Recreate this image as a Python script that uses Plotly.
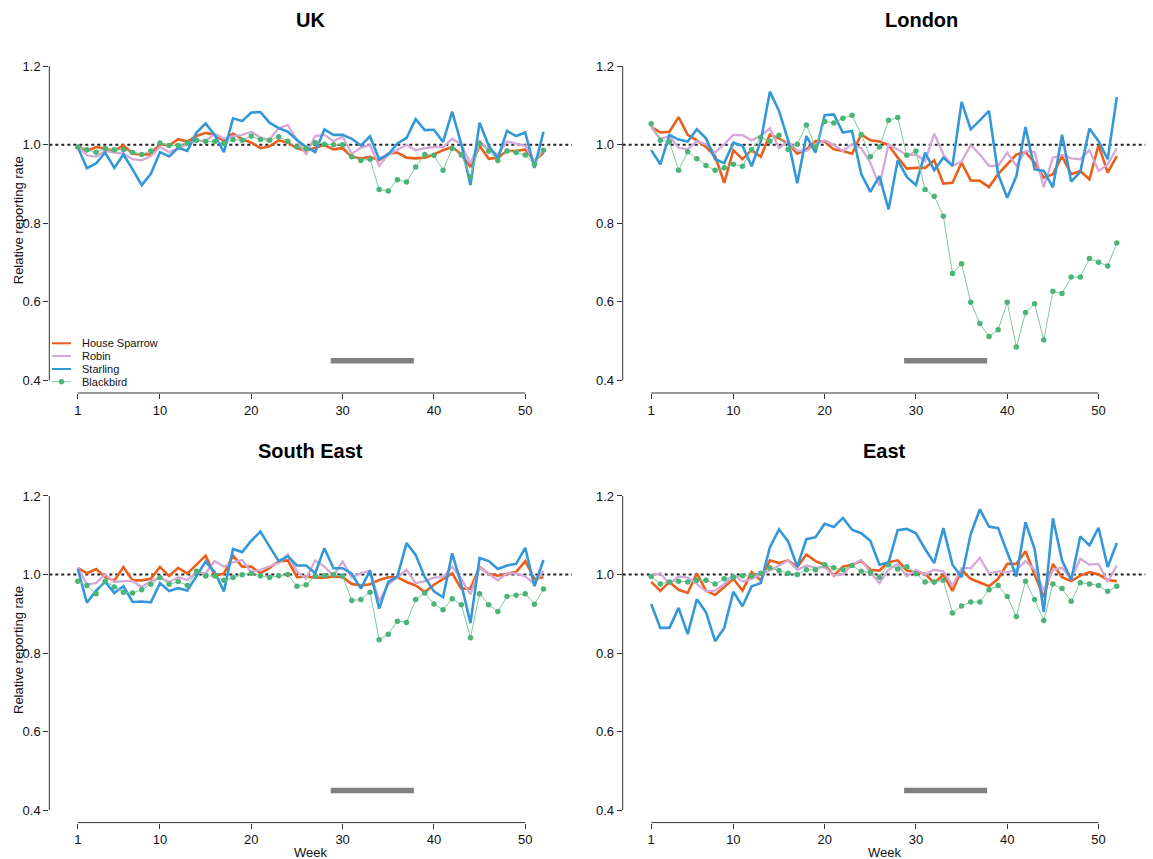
import plotly.graph_objects as go

W, H = 1153, 859
weeks = list(range(1, 53))
species = ["House Sparrow", "Robin", "Starling", "Blackbird"]
x_ticks = [1, 10, 20, 30, 40, 50]
y_ticks = [0.4, 0.6, 0.8, 1.0, 1.2]
y_ticklabels = ["0.4", "0.6", "0.8", "1.0", "1.2"]
ref_level = 1.0
bar_weeks = [28.7, 37.8]
bar_level = 0.45

uk_sparrow = [0.996, 0.984, 0.994, 0.99, 0.984, 0.998, 0.977, 0.975, 0.975, 1.001,
              0.998, 1.014, 1.008, 1.022, 1.03, 1.025, 1.009, 1.028, 1.014, 1.005,
              0.991, 0.996, 1.011, 1.005, 0.991, 0.984, 0.992, 0.999, 0.988, 0.991,
              0.969, 0.965, 0.969, 0.96, 0.977, 0.98, 0.967, 0.965, 0.967, 0.975,
              0.986, 0.994, 0.975, 0.943, 0.997, 0.964, 0.967, 0.984, 0.984, 0.988,
              0.958, 0.98]
uk_robin = [0.996, 0.973, 0.969, 0.984, 0.98, 0.977, 0.963, 0.96, 0.971, 0.994,
            0.981, 0.992, 1.001, 1.011, 1.009, 1.028, 1.015, 1.022, 1.025, 1.033,
            1.018, 1.013, 1.042, 1.05, 1.011, 0.975, 1.022, 1.025, 1.009, 1.02,
            0.977, 0.992, 0.999, 0.946, 0.975, 0.988, 0.999, 0.986, 0.991, 0.994,
            0.994, 1.015, 1.001, 0.952, 1.009, 0.988, 0.975, 1.008, 1.003, 0.997,
            0.957, 0.988]
uk_starling = [0.994, 0.94, 0.952, 0.98, 0.941, 0.975, 0.937, 0.897, 0.926, 0.981,
               0.97, 0.992, 0.984, 1.031, 1.054, 1.024, 0.981, 1.067, 1.06, 1.082,
               1.083, 1.056, 1.042, 1.033, 1.012, 0.994, 0.981, 1.039, 1.025, 1.025,
               1.015, 0.998, 1.021, 0.963, 0.975, 1.003, 1.017, 1.065, 1.037, 1.038,
               1.007, 1.084, 1.001, 0.897, 1.056, 0.997, 0.965, 1.035, 1.022, 1.031,
               0.941, 1.033]
uk_blackbird = [0.994, 0.987, 0.981, 0.99, 0.987, 0.987, 0.98, 0.975, 0.984, 1.004,
                0.998, 0.998, 1.004, 1.011, 1.009, 1.008, 1.003, 1.013, 1.011, 1.022,
                1.013, 1.011, 1.02, 1.009, 0.994, 0.99, 1.005, 1.001, 1.0, 1.0,
                0.969, 0.96, 0.963, 0.886, 0.882, 0.911, 0.905, 0.943, 0.975, 0.973,
                0.935, 0.99, 0.974, 0.918, 1.003, 0.984, 0.96, 0.984, 0.98, 0.974,
                0.95, 0.986]

ldn_sparrow = [1.045, 1.031, 1.033, 1.07, 1.025, 1.011, 0.994, 0.971, 0.903, 0.986,
               0.963, 0.986, 0.969, 1.026, 1.016, 1.003, 0.977, 0.988, 1.009, 1.008,
               0.988, 0.984, 0.977, 1.026, 1.011, 1.008, 0.999, 0.967, 0.939, 0.941,
               0.941, 0.96, 0.901, 0.903, 0.954, 0.909, 0.908, 0.892, 0.925, 0.95,
               0.975, 0.981, 0.954, 0.916, 0.925, 0.971, 0.925, 0.933, 0.912, 0.999,
               0.929, 0.971]
ldn_robin = [1.045, 1.014, 1.022, 0.992, 0.988, 1.009, 1.001, 0.98, 1.001, 1.025,
             1.024, 1.011, 1.022, 1.042, 0.991, 1.009, 0.984, 0.984, 1.001, 1.011,
             0.999, 0.984, 1.001, 0.991, 0.954, 0.895, 1.001, 0.988, 0.974, 0.975,
             0.958, 1.028, 0.975, 0.946, 0.957, 0.999, 0.975, 0.946, 0.946, 0.98,
             0.946, 0.984, 0.981, 0.892, 0.967, 0.974, 0.965, 0.963, 0.986, 0.933,
             0.95, 0.991]
ldn_starling = [0.986, 0.95, 1.025, 1.013, 1.008, 1.039, 1.016, 0.963, 0.953, 1.005,
                0.997, 0.945, 1.009, 1.135, 1.086, 1.011, 0.902, 1.022, 0.98, 1.075,
                1.077, 1.031, 1.035, 0.926, 0.88, 0.92, 0.835, 0.96, 0.918, 0.897,
                0.98, 0.935, 0.967, 0.946, 1.109, 1.039, 1.062, 1.086, 0.925, 0.865,
                0.92, 1.045, 0.937, 0.933, 0.891, 1.025, 0.906, 0.931, 1.041, 1.009,
                0.963, 1.121]
ldn_blackbird = [1.053, 1.011, 1.007, 0.935, 0.982, 0.964, 0.947, 0.935, 0.941, 0.95,
                 0.945, 0.987, 1.018, 1.009, 1.024, 0.988, 1.001, 1.05, 0.994, 1.059,
                 1.055, 1.067, 1.075, 1.026, 0.969, 0.994, 1.062, 1.069, 0.973, 0.984,
                 0.886, 0.869, 0.818, 0.672, 0.697, 0.599, 0.545, 0.512, 0.529, 0.599,
                 0.485, 0.573, 0.595, 0.503, 0.627, 0.621, 0.663, 0.663, 0.71, 0.701,
                 0.691, 0.75]

se_sparrow = [1.017, 1.003, 1.014, 0.993, 0.985, 1.019, 0.985, 0.985, 0.989, 1.019,
              0.996, 1.017, 1.002, 1.025, 1.048, 0.997, 1.002, 1.048, 1.02, 1.02,
              1.003, 1.017, 1.033, 1.036, 0.993, 0.995, 0.992, 0.992, 0.995, 0.993,
              0.976, 0.972, 0.975, 0.986, 0.993, 0.993, 0.981, 0.972, 0.955, 0.974,
              0.989, 1.003, 0.964, 0.964, 1.019, 1.002, 0.997, 1.002, 1.006, 1.034,
              0.989, 0.993]
se_robin = [1.017, 0.975, 0.978, 1.0, 0.981, 0.983, 0.983, 0.968, 0.983, 0.993,
            0.981, 0.993, 0.986, 1.006, 1.003, 1.034, 1.02, 1.031, 1.037, 1.006,
            1.012, 1.02, 1.029, 1.051, 1.008, 0.989, 1.036, 1.02, 0.997, 1.033,
            0.993, 1.003, 1.01, 0.932, 0.975, 0.993, 1.012, 0.978, 0.983, 0.992,
            0.993, 1.02, 0.989, 0.949, 1.017, 1.002, 0.985, 1.003, 1.003, 0.995,
            0.976, 1.01]
se_starling = [1.014, 0.928, 0.959, 0.981, 0.953, 0.97, 0.93, 0.931, 0.929, 0.978,
               0.958, 0.965, 0.959, 0.997, 1.033, 1.006, 0.957, 1.065, 1.057, 1.086,
               1.109, 1.071, 1.034, 1.046, 1.023, 1.023, 1.003, 1.067, 1.016, 1.016,
               1.002, 0.964, 1.01, 0.913, 0.981, 0.995, 1.08, 1.05, 0.993, 0.957,
               0.942, 1.054, 0.975, 0.876, 1.042, 1.034, 1.014, 1.023, 1.027, 1.068,
               0.97, 1.037]
se_blackbird = [0.983, 0.972, 0.951, 0.983, 0.968, 0.955, 0.953, 0.961, 0.975, 0.992,
                0.975, 0.982, 0.972, 1.008, 0.996, 0.996, 0.985, 0.992, 0.999, 1.003,
                0.997, 0.992, 0.997, 1.0, 0.97, 0.974, 0.996, 0.997, 0.999, 0.996,
                0.934, 0.936, 0.955, 0.834, 0.848, 0.881, 0.878, 0.936, 0.953, 0.925,
                0.91, 0.938, 0.923, 0.839, 0.951, 0.923, 0.906, 0.944, 0.947, 0.951,
                0.924, 0.963]

east_sparrow = [0.981, 0.958, 0.981, 0.961, 0.953, 1.003, 0.959, 0.948, 0.968, 0.989,
                0.959, 1.006, 0.985, 1.036, 1.029, 1.036, 1.019, 1.051, 1.034, 1.025,
                0.997, 1.02, 1.025, 1.034, 1.012, 1.01, 1.031, 1.036, 1.01, 1.006,
                1.002, 0.978, 1.0, 0.958, 1.012, 0.989, 0.979, 0.97, 0.989, 1.027,
                1.027, 1.059, 1.0, 0.942, 1.027, 0.993, 0.983, 0.997, 1.006, 1.0,
                0.986, 0.983]
east_robin = [0.997, 1.003, 0.976, 0.995, 0.992, 0.976, 0.957, 0.959, 0.975, 1.0,
              0.982, 0.989, 1.0, 1.01, 1.023, 1.036, 1.012, 1.023, 1.017, 1.019,
              0.997, 1.0, 1.025, 1.037, 1.006, 0.978, 1.012, 1.027, 0.995, 1.012,
              1.0, 1.012, 1.008, 0.972, 1.016, 1.016, 1.042, 1.003, 1.008, 1.006,
              1.012, 1.034, 1.012, 0.959, 1.012, 1.017, 0.989, 1.04, 1.025, 1.027,
              0.981, 1.023]
east_starling = [0.925, 0.864, 0.864, 0.915, 0.848, 0.937, 0.904, 0.83, 0.864, 0.956,
                 0.919, 0.97, 0.978, 1.069, 1.115, 1.084, 1.02, 1.09, 1.095, 1.129,
                 1.121, 1.144, 1.114, 1.105, 1.086, 1.025, 1.031, 1.113, 1.116, 1.105,
                 1.065, 1.029, 1.118, 1.025, 0.993, 1.103, 1.166, 1.122, 1.118, 1.054,
                 0.995, 1.133, 1.065, 0.904, 1.143, 1.036, 0.986, 1.097, 1.074, 1.119,
                 1.019, 1.08]
east_blackbird = [0.995, 0.976, 0.981, 0.983, 0.981, 0.985, 0.985, 0.976, 0.989, 0.993,
                  0.997, 0.996, 1.003, 1.017, 1.01, 1.003, 1.0, 1.012, 1.012, 1.025,
                  1.017, 1.012, 1.023, 1.008, 1.006, 0.993, 1.025, 1.014, 1.02, 1.002,
                  0.981, 0.981, 0.985, 0.902, 0.92, 0.93, 0.93, 0.961, 0.972, 0.944,
                  0.893, 0.983, 0.936, 0.883, 0.976, 0.964, 0.932, 0.979, 0.976, 0.972,
                  0.957, 0.97]

# ---------- styling ----------
FONT = "Liberation Sans, Arial, sans-serif"
C_SPARROW = "#E8601C"
C_ROBIN = "#D6A8D8"
C_STARLING = "#3498D8"
C_BB_LINE = "#7CCB9A"
C_BB_MARK = "#4CB478"
AXIS_C = "#333333"

styles = [
    dict(line=dict(color=C_SPARROW, width=2.6), mode="lines"),
    dict(line=dict(color=C_ROBIN, width=2.3), mode="lines"),
    dict(line=dict(color=C_STARLING, width=2.6), mode="lines"),
    dict(line=dict(color=C_BB_LINE, width=1), mode="lines+markers",
         marker=dict(color=C_BB_MARK, size=5.5)),
]

# panel pixel boxes (plot regions)
LEFT = (49.3, 572)
RIGHT = (622.7, 1145.3)
TOP = (53.5, 393)
BOTTOM = (483.4, 822.6)
X_RANGE = [-2.12, 55.12]
Y_RANGE = [0.368, 1.232]

panels = [
    dict(title="UK", series=[uk_sparrow, uk_robin, uk_starling, uk_blackbird],
         xb=LEFT, yb=TOP, title_x=310, title_y=20, ytitle=True, xtitle=False),
    dict(title="London", series=[ldn_sparrow, ldn_robin, ldn_starling, ldn_blackbird],
         xb=RIGHT, yb=TOP, title_x=921, title_y=20, ytitle=False, xtitle=False),
    dict(title="South East", series=[se_sparrow, se_robin, se_starling, se_blackbird],
         xb=LEFT, yb=BOTTOM, title_x=310, title_y=451, ytitle=True, xtitle=True),
    dict(title="East", series=[east_sparrow, east_robin, east_starling, east_blackbird],
         xb=RIGHT, yb=BOTTOM, title_x=884, title_y=451, ytitle=False, xtitle=True),
]

fig = go.Figure()
shapes = []
annotations = []
layout_axes = {}

for i, p in enumerate(panels):
    n = "" if i == 0 else str(i + 1)
    xa, ya = "x" + n, "y" + n
    for name, vals, st in zip(species, p["series"], styles):
        fig.add_trace(go.Scatter(x=weeks, y=vals, name=name, xaxis=xa, yaxis=ya,
                                 showlegend=False, hoverinfo="x+y+name", **st))
    # grey period bar
    fig.add_trace(go.Scatter(x=bar_weeks, y=[bar_level, bar_level], mode="lines",
                             line=dict(color="#808080", width=5.5), xaxis=xa, yaxis=ya,
                             showlegend=False, hoverinfo="skip"))
    x0, x1 = p["xb"]
    yt, yb = p["yb"]
    layout_axes["xaxis" + n] = dict(
        domain=[x0 / W, x1 / W], anchor=ya, range=X_RANGE,
        tickvals=x_ticks, ticks="outside", ticklen=5, tickwidth=1, tickcolor=AXIS_C,
        showline=False, showgrid=False, zeroline=False,
        tickfont=dict(family=FONT, size=13, color="#111"))
    layout_axes["yaxis" + n] = dict(
        domain=[1 - yb / H, 1 - yt / H], anchor=xa, range=Y_RANGE,
        tickvals=y_ticks, ticktext=y_ticklabels, ticks="outside", ticklen=5,
        tickwidth=1, tickcolor=AXIS_C, showline=False, showgrid=False,
        zeroline=False, tickfont=dict(family=FONT, size=13, color="#111"))
    # R style axis lines spanning first to last tick
    shapes.append(dict(type="line", xref=xa + " domain", yref=ya, x0=0, x1=0,
                       y0=y_ticks[0], y1=y_ticks[-1], line=dict(color=AXIS_C, width=1)))
    shapes.append(dict(type="line", xref=xa, yref=ya + " domain", x0=x_ticks[0],
                       x1=x_ticks[-1], y0=0, y1=0, line=dict(color=AXIS_C, width=1)))
    # reference dotted line
    shapes.append(dict(type="line", xref=xa + " domain", yref=ya, x0=0, x1=1,
                       y0=ref_level, y1=ref_level, layer="below",
                       line=dict(color="#222", width=2, dash="dot")))
    annotations.append(dict(text="<b>%s</b>" % p["title"], x=p["title_x"] / W,
                            y=1 - p["title_y"] / H, xref="paper", yref="paper",
                            showarrow=False, xanchor="center", yanchor="middle",
                            font=dict(family=FONT, size=20, color="#000")))
    if p["ytitle"]:
        ymid = (yt + yb) / 2 - 3
        annotations.append(dict(text="Relative reporting rate", x=18 / W,
                                y=1 - ymid / H, xref="paper", yref="paper",
                                textangle=-90, showarrow=False, xanchor="center",
                                yanchor="middle",
                                font=dict(family=FONT, size=13, color="#111")))
    if p["xtitle"]:
        annotations.append(dict(text="Week", x=(x0 + x1) / 2 / W, y=1 - 852 / H,
                                xref="paper", yref="paper", showarrow=False,
                                xanchor="center", yanchor="middle",
                                font=dict(family=FONT, size=13, color="#111")))

# manual legend in UK panel (paper pixel positions)
leg_y = [343.3, 356.0, 369.0, 381.7]
leg_cols = [C_SPARROW, C_ROBIN, C_STARLING, C_BB_LINE]
for name, yy, col in zip(species, leg_y, leg_cols):
    shapes.append(dict(type="line", xref="paper", yref="paper", x0=52 / W, x1=71 / W,
                       y0=1 - yy / H, y1=1 - yy / H,
                       line=dict(color=col, width=2 if name != "Blackbird" else 1)))
    annotations.append(dict(text=name, x=80 / W, y=1 - yy / H, xref="paper",
                            yref="paper", showarrow=False, xanchor="left",
                            yanchor="middle", font=dict(family=FONT, size=11, color="#111")))
r = 2.6
shapes.append(dict(type="circle", xref="paper", yref="paper",
                   x0=(61.5 - r) / W, x1=(61.5 + r) / W,
                   y0=1 - (leg_y[3] + r) / H, y1=1 - (leg_y[3] - r) / H,
                   fillcolor=C_BB_MARK, line=dict(width=0)))

fig.update_layout(
    width=W, height=H, margin=dict(l=0, r=0, t=0, b=0),
    paper_bgcolor="white", plot_bgcolor="white",
    shapes=shapes, annotations=annotations, showlegend=False,
    font=dict(family=FONT), **layout_axes)

fig.write_html("out.html", config={"displayModeBar": False},
               post_script="document.body.style.margin='0px';")
